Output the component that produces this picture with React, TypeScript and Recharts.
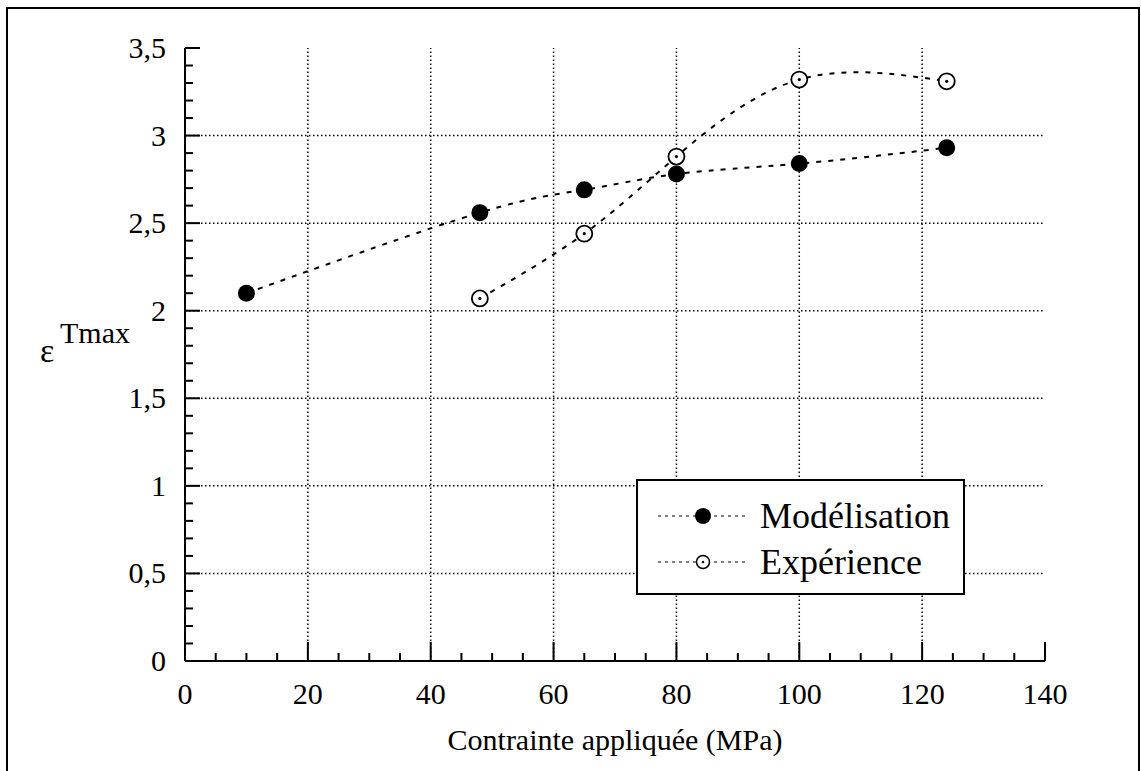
import React from "react"
import { LineChart, Line, XAxis, YAxis, ReferenceLine, Legend } from "recharts"

// contrainte appliquée (MPa)
const stress = [10, 48, 65, 80, 100, 124]
const modelisation = [2.1, 2.56, 2.69, 2.78, 2.84, 2.93]
const experience = [null, 2.07, 2.44, 2.88, 3.32, 3.31]

const xMajor = [0, 20, 40, 60, 80, 100, 120, 140]
const yMajor = [0, 0.5, 1, 1.5, 2, 2.5, 3, 3.5]
const xTicks = Array.from({ length: 29 }, (_, i) => i * 5)
const yTicks = Array.from({ length: 36 }, (_, i) => i / 10)
const xGrid = [20, 40, 60, 80, 100, 120]
const yGrid = [0.5, 1, 1.5, 2, 2.5, 3]

const data = stress.map((x, i) => ({ x, mod: modelisation[i], exp: experience[i] }))

const FONT = "Times New Roman, Liberation Serif, Tinos, DejaVu Serif, serif"
const isMajor = (v: number, list: number[]) => list.some((m) => Math.abs(m - v) < 1e-6)
const fmt = (v: number) => String(v).replace(".", ",")

function BottomTick({ x, y, payload }: any) {
  const major = isMajor(payload.value, xMajor)
  return (
    <g>
      <line x1={x} x2={x} y1={y} y2={y - (major ? 19 : 8)} stroke="#000" strokeWidth={2} />
      {major && (
        <text x={x} y={y + 43} textAnchor="middle" fontSize={30} fontFamily={FONT} fill="#000">
          {payload.value}
        </text>
      )}
    </g>
  )
}

function TopTick({ x, y, payload }: any) {
  const major = isMajor(payload.value, xMajor)
  return <line x1={x} x2={x} y1={y} y2={y + (major ? 19 : 8)} stroke="#000" strokeWidth={2} />
}

function LeftTick({ x, y, payload }: any) {
  const major = isMajor(payload.value, yMajor)
  return (
    <g>
      <line x1={x} x2={x + (major ? 15 : 8)} y1={y} y2={y} stroke="#000" strokeWidth={2} />
      {major && (
        <text x={x - 19} y={y + 10} textAnchor="end" fontSize={30} fontFamily={FONT} fill="#000">
          {fmt(payload.value)}
        </text>
      )}
    </g>
  )
}

function RightTick({ x, y, payload }: any) {
  const major = isMajor(payload.value, yMajor)
  return <line x1={x} x2={x - (major ? 15 : 8)} y1={y} y2={y} stroke="#000" strokeWidth={2} />
}

function FilledDot({ cx, cy }: any) {
  if (cx == null || cy == null) return <g />
  return <circle cx={cx} cy={cy} r={8.5} fill="#000" />
}

function OpenDot({ cx, cy }: any) {
  if (cx == null || cy == null) return <g />
  return (
    <g>
      <circle cx={cx} cy={cy} r={8} fill="#fff" stroke="#000" strokeWidth={1.8} />
      <circle cx={cx} cy={cy} r={1.6} fill="#000" />
    </g>
  )
}

function YLabel({ viewBox }: any) {
  const cy = viewBox.y + viewBox.height / 2
  return (
    <g fontFamily={FONT} fill="#000">
      <text x={40} y={cy + 7} fontSize={34} fontFamily={FONT}>ε</text>
      <text x={60} y={cy - 12} fontSize={30} fontFamily={FONT}>Tmax</text>
    </g>
  )
}

function XLabel({ viewBox }: any) {
  return (
    <text x={viewBox.x + viewBox.width / 2} y={viewBox.y + 89} textAnchor="middle" fontSize={30} fontFamily={FONT} fill="#000">
      Contrainte appliquée (MPa)
    </text>
  )
}

function LegendBox() {
  const rows = [
    { name: "Modélisation", open: false },
    { name: "Expérience", open: true },
  ]
  return (
    <div style={{ width: 325, height: 112, border: "2px solid #000", background: "#fff", fontFamily: FONT, boxSizing: "content-box" }}>
      {rows.map((r) => (
        <div key={r.name} style={{ display: "flex", alignItems: "center", height: 46, marginTop: r.open ? 0 : 12 }}>
          <svg width={120} height={30} style={{ flex: "none" }}>
            <line x1={20} x2={108} y1={15} y2={15} stroke="#000" strokeWidth={1} strokeDasharray="3 4" />
            {r.open ? (
              <>
                <circle cx={65} cy={15} r={6.5} fill="#fff" stroke="#000" strokeWidth={1.5} />
                <circle cx={65} cy={15} r={1.3} fill="#000" />
              </>
            ) : (
              <circle cx={65} cy={15} r={8} fill="#000" />
            )}
          </svg>
          <span style={{ fontSize: 36, lineHeight: "36px", color: "#000", marginLeft: 2, fontFamily: FONT }}>{r.name}</span>
        </div>
      ))}
    </div>
  )
}

export default function App() {
  return (
    <div style={{ position: "absolute", left: 0, top: 0, width: 1141, height: 771, background: "#fff", overflow: "hidden", fontFamily: FONT }}>
      <div style={{ position: "absolute", left: 6, top: 7, width: 1130, height: 800, borderLeft: "2px solid #000", borderTop: "2px solid #000", borderRight: "2px solid #000" }} />
      <LineChart width={1141} height={771} data={data} margin={{ top: 48, right: 96, left: 0, bottom: 0 }} style={{ fontFamily: FONT }}>
        <XAxis xAxisId="b" type="number" dataKey="x" domain={[0, 140]} ticks={xTicks} interval={0} height={110}
          tickSize={0} tickMargin={0} tickLine={false} tick={<BottomTick />} axisLine={{ stroke: "#000", strokeWidth: 2 }}
          label={<XLabel />} />
        <XAxis xAxisId="t" orientation="top" type="number" dataKey="x" domain={[0, 140]} ticks={xTicks} interval={0} height={0}
          tickSize={0} tickMargin={0} tickLine={false} tick={<TopTick />} axisLine={{ stroke: "#000", strokeWidth: 2 }} />
        <YAxis yAxisId="l" type="number" domain={[0, 3.5]} ticks={yTicks} interval={0} width={185}
          tickSize={0} tickMargin={0} tickLine={false} tick={<LeftTick />} axisLine={{ stroke: "#000", strokeWidth: 2 }}
          label={<YLabel />} />
        <YAxis yAxisId="r" orientation="right" type="number" domain={[0, 3.5]} ticks={yTicks} interval={0} width={0}
          tickSize={0} tickMargin={0} tickLine={false} tick={<RightTick />} axisLine={{ stroke: "#000", strokeWidth: 2 }} />
        {xGrid.map((v) => (
          <ReferenceLine key={"gx" + v} xAxisId="b" yAxisId="l" x={v} stroke="#000" strokeWidth={1.5} strokeDasharray="1.5 2.5" />
        ))}
        {yGrid.map((v) => (
          <ReferenceLine key={"gy" + v} xAxisId="b" yAxisId="l" y={v} stroke="#000" strokeWidth={1.5} strokeDasharray="1.5 2.5" />
        ))}
        <Line xAxisId="b" yAxisId="l" type="natural" dataKey="mod" name="Modélisation" stroke="#000" strokeWidth={2}
          strokeDasharray="5 7" dot={<FilledDot />} activeDot={false} isAnimationActive={false} />
        <Line xAxisId="b" yAxisId="l" type="natural" dataKey="exp" name="Expérience" stroke="#000" strokeWidth={2}
          strokeDasharray="5 7" dot={<OpenDot />} activeDot={false} isAnimationActive={false} />
        <Legend layout="vertical" align="center" verticalAlign="middle" content={<LegendBox />}
          wrapperStyle={{ left: 636, top: 479, width: 329, height: 116 }} />
      </LineChart>
    </div>
  )
}
